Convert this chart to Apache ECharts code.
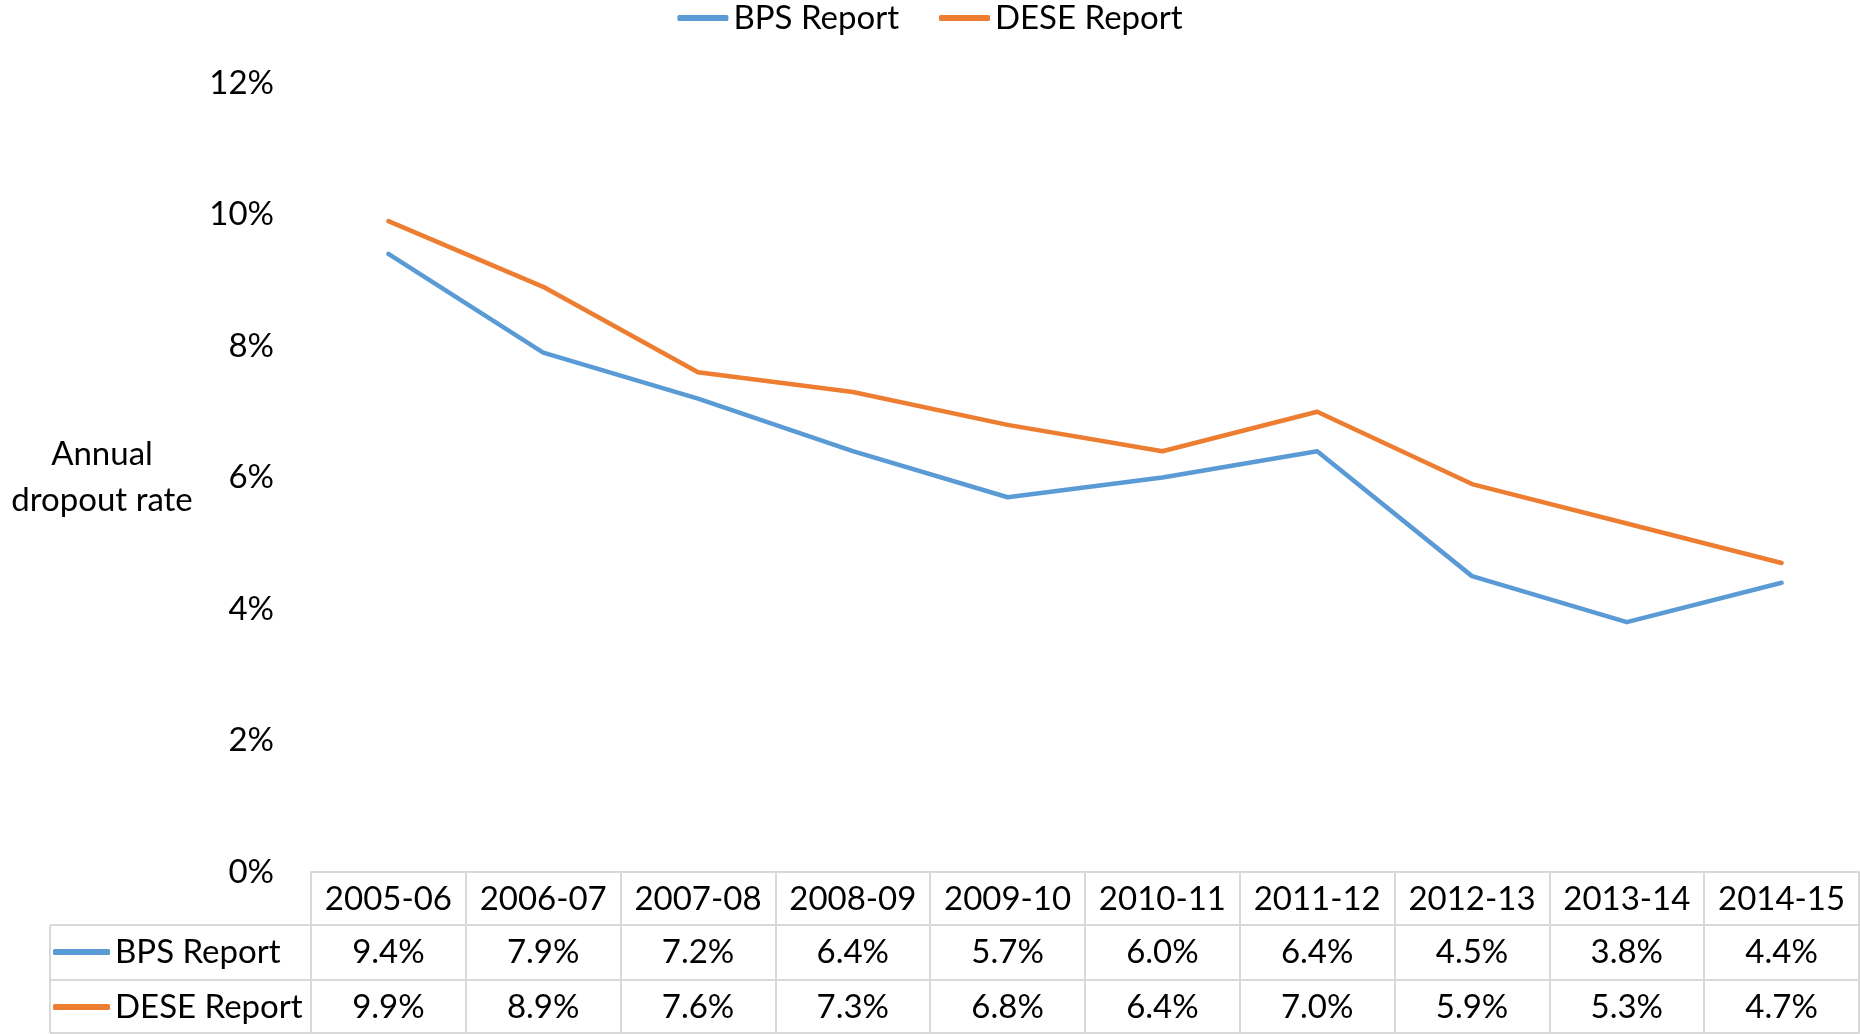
<!DOCTYPE html>
<html>
<head>
<meta charset="utf-8">
<title>Annual dropout rate</title>
<script src="https://cdn.jsdelivr.net/npm/echarts@6/dist/echarts.min.js"></script>
<style>
  html, body { margin: 0; padding: 0; background: #fff; }
  #chart { width: 1860px; height: 1034px; }
</style>
</head>
<body>
<div id="chart"></div>
<script>
// school years on the category axis
const years = ["2005-06", "2006-07", "2007-08", "2008-09", "2009-10",
  "2010-11", "2011-12", "2012-13", "2013-14", "2014-15"];

// annual dropout rate, percent
const bpsReport = [9.4, 7.9, 7.2, 6.4, 5.7, 6.0, 6.4, 4.5, 3.8, 4.4];
const deseReport = [9.9, 8.9, 7.6, 7.3, 6.8, 6.4, 7.0, 5.9, 5.3, 4.7];

const seriesNames = ["BPS Report", "DESE Report"];
const seriesColors = ["#5B9BD5", "#ED7D31"];

const FONT = "Lato";
const FS = 33;
const BORDER = "#d9d9d9";

const chart = echarts.init(document.getElementById("chart"));

// one axis per row of the data table under the plot
function tableAxis(rowData, offset, tickLen, showLabel) {
  return {
    type: "category",
    position: "bottom",
    offset: offset,
    data: rowData,
    boundaryGap: true,
    axisLine: { show: true, lineStyle: { color: BORDER, width: 2 } },
    axisTick: { show: tickLen > 0, length: tickLen, lineStyle: { color: BORDER, width: 2 } },
    axisLabel: {
      show: showLabel,
      interval: 0,
      margin: 27,
      verticalAlign: "middle",
      color: "#000",
      fontFamily: FONT,
      fontSize: FS
    },
    splitLine: { show: false }
  };
}

const fmt = v => v.toFixed(1) + "%";

chart.setOption({
  animation: false,
  grid: { left: 311, right: 1, top: 83, bottom: 162, outerBoundsMode: "none" },
  legend: [
    {
      data: seriesNames,
      top: 0,
      left: "center",
      padding: 0,
      icon: "roundRect",
      itemWidth: 51,
      itemHeight: 6,
      itemGap: 40,
      selectedMode: false,
      textStyle: { color: "#000", fontFamily: FONT, fontSize: FS, lineHeight: 36 }
    },
    {
      // row headers of the data table
      data: seriesNames,
      orient: "vertical",
      left: 53,
      top: 934,
      padding: 0,
      icon: "roundRect",
      itemWidth: 57,
      itemHeight: 6,
      itemGap: 19,
      selectedMode: false,
      textStyle: { color: "#000", fontFamily: FONT, fontSize: FS, lineHeight: 36 }
    }
  ],
  xAxis: [
    tableAxis(years, 0, 53, true),
    tableAxis(bpsReport.map(fmt), 53, 55, true),
    tableAxis(deseReport.map(fmt), 108, 53, true),
    tableAxis(years, 161, 0, false)
  ],
  yAxis: {
    type: "value",
    min: 0,
    max: 12,
    interval: 2,
    name: "Annual\ndropout rate",
    nameLocation: "middle",
    nameRotate: 0,
    nameGap: 209,
    nameTextStyle: {
      color: "#000",
      fontFamily: FONT,
      fontSize: FS,
      lineHeight: 46,
      align: "center",
      verticalAlign: "middle"
    },
    axisLine: { show: false },
    axisTick: { show: false },
    splitLine: { show: false },
    axisLabel: {
      formatter: "{value}%",
      margin: 37,
      color: "#000",
      fontFamily: FONT,
      fontSize: FS
    }
  },
  series: [
    {
      name: seriesNames[0],
      type: "line",
      data: bpsReport,
      showSymbol: false,
      color: seriesColors[0],
      lineStyle: { width: 4.5, color: seriesColors[0], cap: "round", join: "round" }
    },
    {
      name: seriesNames[1],
      type: "line",
      data: deseReport,
      showSymbol: false,
      color: seriesColors[1],
      lineStyle: { width: 4.5, color: seriesColors[1], cap: "round", join: "round" }
    }
  ],
  // borders of the row-header column of the table
  graphic: [
    { type: "line", shape: { x1: 50, y1: 925, x2: 311, y2: 925 }, style: { stroke: BORDER, lineWidth: 2 } },
    { type: "line", shape: { x1: 50, y1: 980, x2: 311, y2: 980 }, style: { stroke: BORDER, lineWidth: 2 } },
    { type: "line", shape: { x1: 50, y1: 1033, x2: 311, y2: 1033 }, style: { stroke: BORDER, lineWidth: 2 } },
    { type: "line", shape: { x1: 50, y1: 925, x2: 50, y2: 1033 }, style: { stroke: BORDER, lineWidth: 2 } }
  ]
});
</script>
</body>
</html>
